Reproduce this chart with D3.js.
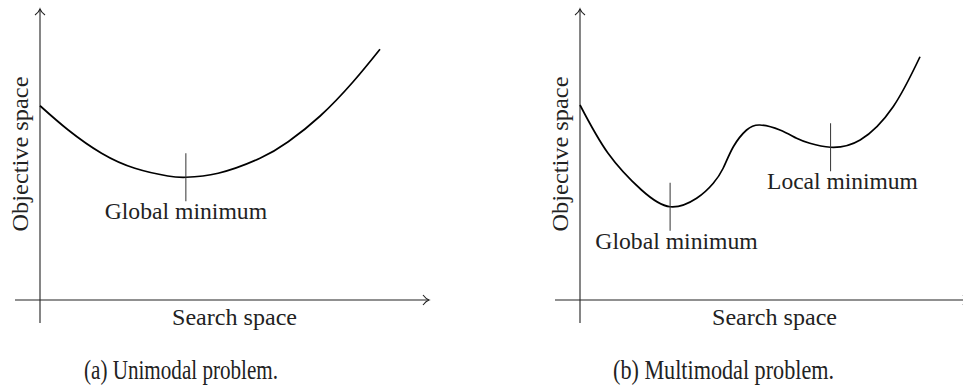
<!DOCTYPE html>
<html>
<head>
<meta charset="utf-8">
<script src="https://cdn.jsdelivr.net/npm/d3@7"></script>
<style>
  body { margin: 0; background: #fff; }
</style>
</head>
<body>
<div id="chart"></div>
<script>
// curve samples, x and y in abstract units (0..10)
let uniX = [0, 0.83, 1.81, 2.79, 3.76, 4.29, 5.24, 6.47, 7.3, 8.24, 9.21, 10];
let uniY = [7.77, 6.8, 5.87, 5.27, 4.96, 4.91, 5.07, 5.67, 6.33, 7.36, 8.73, 10.03];

let multiX = [0, 0.82, 1.81, 2.65, 3.43, 3.92, 4.21, 4.51, 4.9, 5.29, 5.88, 6.37, 6.76, 7.37, 8.24, 9.21, 10];
let multiY = [7.8, 5.88, 4.4, 3.73, 4.07, 4.67, 5.27, 6.13, 6.8, 7.0, 6.8, 6.47, 6.27, 6.11, 6.4, 7.73, 9.73];

// minima markers: label, position on the curve, label centre
let uniMinima = [
    {label: "Global minimum", x: 4.29, y: 4.91, lx: 4.29}
];
let multiMinima = [
    {label: "Global minimum", x: 2.65, y: 3.73, lx: 2.84},
    {label: "Local minimum", x: 7.37, y: 6.11, lx: 7.72}
];

let captions = ["(a) Unimodal problem.", "(b) Multimodal problem."];
let xTitle = "Search space";
let yTitle = "Objective space";

let width = 963, height = 385;
let serif = "'Liberation Serif', 'Times New Roman', 'DejaVu Serif', serif";

let svg = d3.select("#chart")
    .append("svg")
    .attr("width", width)
    .attr("height", height)
    .attr("font-family", serif);

function draw_panel(originX, xs, ys, minima, caption, captionX, captionLen) {
    let originY = 300;
    let x = d3.scaleLinear().domain([0, 10]).range([originX, originX + 340]);
    let y = d3.scaleLinear().domain([0, 10]).range([originY, originY - 250]);

    let g = svg.append("g");

    // axes (plain lines with tikz style "to" arrow heads)
    g.append("line")
        .attr("x1", originX).attr("x2", originX)
        .attr("y1", originY + 23).attr("y2", 9)
        .attr("stroke", "#222").attr("stroke-width", 1.1);
    g.append("path")
        .attr("d", "M" + (originX - 5) + ",15 Q" + (originX - 1) + ",12 " + originX + ",9 Q" + (originX + 1) + ",12 " + (originX + 5) + ",15")
        .attr("fill", "none").attr("stroke", "#222").attr("stroke-width", 1.1);

    let xEnd = originX + 389;
    g.append("line")
        .attr("x1", originX - 25).attr("x2", xEnd)
        .attr("y1", originY).attr("y2", originY)
        .attr("stroke", "#222").attr("stroke-width", 1.1);
    g.append("path")
        .attr("d", "M" + (xEnd - 6) + "," + (originY - 5) + " Q" + (xEnd - 3) + "," + (originY - 1) + " " + xEnd + "," + originY +
              " Q" + (xEnd - 3) + "," + (originY + 1) + " " + (xEnd - 6) + "," + (originY + 5))
        .attr("fill", "none").attr("stroke", "#222").attr("stroke-width", 1.1);

    // the curve
    let pts = xs.map(function(d, i) { return [d, ys[i]]; });
    let line = d3.line()
        .x(function(d) { return x(d[0]); })
        .y(function(d) { return y(d[1]); })
        .curve(d3.curveNatural);
    g.append("path")
        .datum(pts)
        .attr("d", line)
        .attr("fill", "none")
        .attr("stroke", "#000")
        .attr("stroke-width", 1.7);

    // minimum ticks and labels
    g.selectAll(".tick")
        .data(minima)
        .enter()
        .append("line")
        .attr("x1", function(d) { return x(d.x); })
        .attr("x2", function(d) { return x(d.x); })
        .attr("y1", function(d) { return y(d.y) - 24; })
        .attr("y2", function(d) { return y(d.y) + 24; })
        .attr("stroke", "#333")
        .attr("stroke-width", 1);

    g.selectAll(".minlabel")
        .data(minima)
        .enter()
        .append("text")
        .attr("x", function(d) { return x(d.lx); })
        .attr("y", function(d) { return y(d.y) + 42; })
        .attr("text-anchor", "middle")
        .attr("font-size", "24px")
        .attr("fill", "#222")
        .attr("textLength", function(d) { return d.label.length * 11.6; })
        .attr("lengthAdjust", "spacingAndGlyphs")
        .text(function(d) { return d.label; });

    // axis titles
    g.append("text")
        .attr("x", originX + 194.5)
        .attr("y", 325)
        .attr("text-anchor", "middle")
        .attr("font-size", "24px")
        .attr("fill", "#222")
        .attr("textLength", 125)
        .attr("lengthAdjust", "spacingAndGlyphs")
        .text(xTitle);

    g.append("text")
        .attr("transform", "translate(" + (originX - 12) + ",154) rotate(-90)")
        .attr("text-anchor", "middle")
        .attr("font-size", "24px")
        .attr("fill", "#222")
        .attr("textLength", 155)
        .attr("lengthAdjust", "spacingAndGlyphs")
        .text(yTitle);

    // caption
    svg.append("text")
        .attr("x", captionX)
        .attr("y", 379)
        .attr("text-anchor", "middle")
        .attr("font-size", "28px")
        .attr("fill", "#222")
        .attr("textLength", captionLen)
        .attr("lengthAdjust", "spacingAndGlyphs")
        .text(caption);
}

draw_panel(40, uniX, uniY, uniMinima, captions[0], 181, 194);
draw_panel(580, multiX, multiY, multiMinima, captions[1], 723.5, 221);
</script>
</body>
</html>
